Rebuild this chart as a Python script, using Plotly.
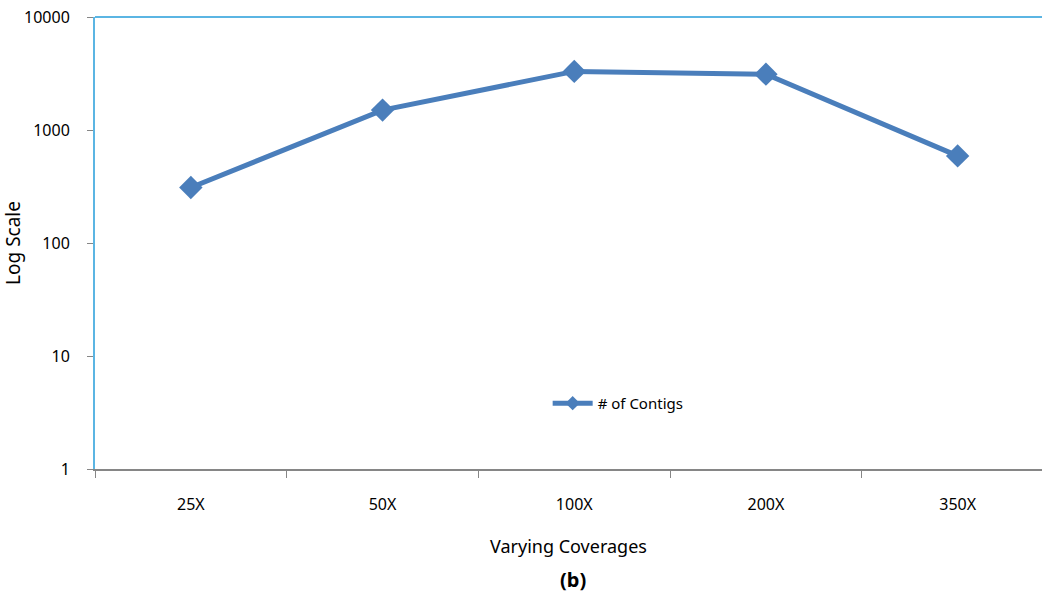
import plotly.graph_objects as go

coverages = ["25X", "50X", "100X", "200X", "350X"]
contigs = [310, 1500, 3300, 3120, 590]
y_ticks = [1, 10, 100, 1000, 10000]
y_tick_text = ["1", "10", "100", "1000", "10000"]

blue = "#4a7ebb"
font_family = "Noto Sans, Open Sans, sans-serif"

fig = go.Figure()
fig.add_trace(go.Scatter(
    x=coverages,
    y=contigs,
    mode="lines+markers",
    name="# of Contigs",
    line=dict(color=blue, width=5),
    marker=dict(symbol="diamond", size=18, color=blue),
    showlegend=False,
))
# legend entry with a smaller diamond
fig.add_trace(go.Scatter(
    x=[None],
    y=[None],
    mode="lines+markers",
    name="# of Contigs",
    line=dict(color=blue, width=5),
    marker=dict(symbol="diamond", size=11, color=blue),
    showlegend=True,
))

fig.update_layout(
    width=1042,
    height=594,
    margin=dict(l=95, r=0, t=17, b=125),
    paper_bgcolor="white",
    plot_bgcolor="white",
    font=dict(family=font_family, size=15, color="black"),
    showlegend=True,
    legend=dict(
        x=0.478, y=0.145, xanchor="left", yanchor="middle",
        bgcolor="rgba(0,0,0,0)",
        font=dict(size=15),
        itemwidth=40,
    ),
    xaxis=dict(
        type="category",
        range=[-0.5, 4.44],
        tickson="boundaries",
        ticks="outside",
        ticklen=7,
        tickcolor="#868686",
        tickfont=dict(size=16),
        showline=True,
        linecolor="#868686",
        linewidth=2,
        showgrid=False,
        automargin=False,
        ticklabelstandoff=20,
        title=dict(text="Varying Coverages", font=dict(size=18), standoff=26),
    ),
    yaxis=dict(
        type="log",
        range=[0, 4],
        tickvals=y_ticks,
        ticktext=y_tick_text,
        ticks="outside",
        ticklen=6,
        tickcolor="#868686",
        tickfont=dict(size=16),
        showline=True,
        linecolor="#5bb5e3",
        linewidth=2,
        showgrid=False,
        zeroline=False,
        automargin=False,
        ticklabelstandoff=14,
        title=dict(text="Log Scale", font=dict(size=19), standoff=4),
    ),
)

# top border of the plotting area
fig.add_shape(type="line", xref="x domain", yref="y domain",
              x0=0, x1=1, y0=1, y1=1,
              line=dict(color="#5bb5e3", width=2))

fig.add_annotation(text="<b>(b)</b>", xref="paper", yref="paper",
                   x=(573 - 95) / (1042 - 95), y=-(579 - 469) / (469 - 17),
                   showarrow=False, font=dict(size=20),
                   xanchor="center", yanchor="middle")

fig.write_html("out.html")
